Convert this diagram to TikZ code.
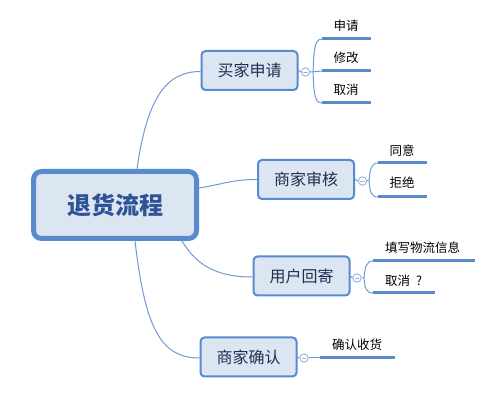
\documentclass[tikz,border=0pt]{standalone}
\usepackage{fontspec}
\setmainfont{Noto Sans CJK SC}
\usetikzlibrary{calc}
\definecolor{bord}{RGB}{88,138,206}
\definecolor{fillb}{RGB}{220,230,242}
\definecolor{conn}{RGB}{110,153,212}
\definecolor{circ}{RGB}{150,182,226}
\definecolor{roottxt}{RGB}{46,84,150}
\definecolor{branchtxt}{RGB}{30,48,80}
\tikzset{
  rootbox/.style={draw=bord, line width=5pt, fill=fillb, rounded corners=8pt,
    minimum width=163pt, minimum height=67pt, inner sep=0pt,
    font=\fontsize{24}{28}\selectfont\bfseries, text=roottxt},
  branchbox/.style={draw=bord, line width=2pt, fill=fillb, rounded corners=4pt,
    minimum width=96pt, minimum height=39pt, inner sep=0pt,
    font=\fontsize{16}{19}\selectfont, text=branchtxt},
  childtxt/.style={inner sep=0pt, font=\fontsize{12.5}{15}\selectfont, text=black},
  connector/.style={draw=conn, line width=1pt},
  collapse/.style={circle, draw=circ, fill=white, line width=0.9pt, minimum size=8.5pt, inner sep=0pt},
  childline/.style={draw=bord, line width=3pt},
}
\begin{document}
\begin{tikzpicture}[x=1pt,y=-1pt]
\useasboundingbox (0,0) rectangle (501,403);

% root
\node[rootbox] (root) at (115,205) {退货流程};

% branches
\node[branchbox] (b1) at (249.5,70.5) {买家申请};
\node[branchbox] (b2) at (306,179.5) {商家审核};
\node[branchbox] (b3) at (301.5,276) {用户回寄};
\node[branchbox] (b4) at (248.5,357) {商家确认};

% root connectors
\draw[connector] ($(root.north)+(22,0)$) .. controls +(10,-70) and +(-35,0) .. ($(b1.west)+(0,1)$);
\draw[connector] ($(root.east)+(0,-17)$) .. controls +(25,-4) and +(-25,0) .. (b2.west);
\draw[connector] ($(root.south)+(67,0)$) .. controls +(15,25) and +(-35,0) .. ($(b3.west)+(0,1)$);
\draw[connector] ($(root.south)+(20,0)$) .. controls +(10,85) and +(-40,0) .. ($(b4.west)+(0,1)$);

% collapse circles
\node[collapse] (c1) at (305.5,72) {};
\node[collapse] (c2) at (362.5,181) {};
\node[collapse] (c3) at (357,278) {};
\node[collapse] (c4) at (304,358) {};
\foreach \c in {c1,c2,c3,c4}{
  \draw[draw=circ, line width=0.8pt] ($(\c.center)+(-2.2,0)$) -- ($(\c.center)+(2.2,0)$);
}
\draw[connector] (b1.east) -- (c1.west);
\draw[connector] (b2.east) -- (c2.west);
\draw[connector] (b3.east) -- (c3.west);
\draw[connector] (b4.east) -- (c4.west);

% child underline coordinates
\coordinate (u11) at (322,39);  \coordinate (v11) at (371,39);
\coordinate (u12) at (322,71);  \coordinate (v12) at (371,71);
\coordinate (u13) at (322,103); \coordinate (v13) at (371,103);
\coordinate (u21) at (378,163); \coordinate (v21) at (427,163);
\coordinate (u22) at (378,197); \coordinate (v22) at (427,197);
\coordinate (u31) at (373,261); \coordinate (v31) at (475,261);
\coordinate (u32) at (373,293); \coordinate (v32) at (435,293);
\coordinate (u41) at (320,358); \coordinate (v41) at (395,358);

% brackets
\draw[connector] (c1.east) -- (u12);
\draw[connector] (313,72) .. controls (314,52) and (314,39) .. (u11);
\draw[connector] (313,72) .. controls (314,92) and (314,103) .. (u13);

\draw[connector] (c2.east) -- (369,181);
\draw[connector] (369,181) .. controls (370,170) and (371,163) .. (u21);
\draw[connector] (369,181) .. controls (370,192) and (371,197) .. (u22);

\draw[connector] (c3.east) -- (364,278);
\draw[connector] (364,278) .. controls (365,268) and (366,261) .. (u31);
\draw[connector] (364,278) .. controls (365,288) and (366,293) .. (u32);

\draw[connector] (c4.east) -- (u41);

% child lines
\draw[childline] (u11) -- (v11);
\draw[childline] (u12) -- (v12);
\draw[childline] (u13) -- (v13);
\draw[childline] (u21) -- (v21);
\draw[childline] (u22) -- (v22);
\draw[childline] (u31) -- (v31);
\draw[childline] (u32) -- (v32);
\draw[childline] (u41) -- (v41);

% child texts
\node[childtxt] (t11) at (346,26) {申请};
\node[childtxt] (t12) at (346,58) {修改};
\node[childtxt] (t13) at (346,90) {取消};
\node[childtxt] (t21) at (402,151) {同意};
\node[childtxt] (t22) at (402,183) {拒绝};
\node[childtxt, anchor=west] (t31) at (385,248) {填写物流信息};
\node[childtxt, anchor=west] (t32) at (385,281) {取消\hspace{6pt}?};
\node[childtxt] (t41) at (357,345) {确认收货};
\end{tikzpicture}
\end{document}
